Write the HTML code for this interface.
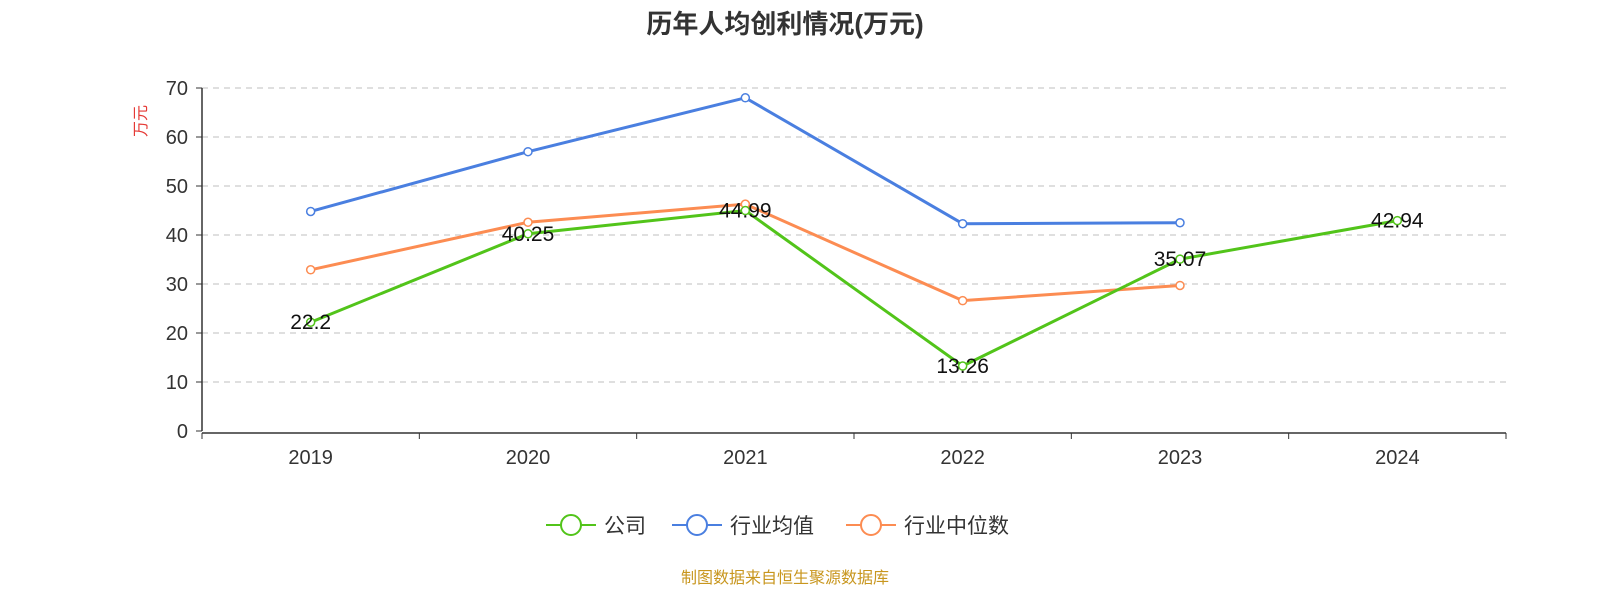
<!DOCTYPE html>
<html><head><meta charset="utf-8"><style>
html,body{margin:0;padding:0;overflow:hidden;background:#fff;font-family:"Liberation Sans","Noto Sans CJK SC",sans-serif;}
svg{display:block;}
svg text{font-family:"Liberation Sans","Noto Sans CJK SC",sans-serif;}
</style></head><body>
<svg id="c" width="1600" height="600"></svg>
<script>
const categories=['2019','2020','2021','2022','2023','2024'];
const company=[22.2,40.25,44.99,13.26,35.07,42.94];
const industryMean=[44.8,57.0,68.0,42.3,42.5,null];
const industryMedian=[32.9,42.6,46.3,26.6,29.7,null];
const yTicks=[0,10,20,30,40,50,60,70];
const NS='http://www.w3.org/2000/svg';
const svg=document.getElementById('c');
const x0=202,x1=1506,y0=431,yTop=88;
const bw=(x1-x0)/categories.length;
const xs=i=>x0+bw*(i+0.5);
const ys=v=>y0-(v/70)*(y0-yTop);
function el(t,a,txt){const e=document.createElementNS(NS,t);for(const k in a)e.setAttribute(k,a[k]);if(txt!=null)e.textContent=txt;svg.appendChild(e);return e;}
let e=el('text',{x:785,y:33,'text-anchor':'middle','font-size':26,'font-weight':'bold',fill:'#333'},'历年人均创利情况(万元)');

e=el('text',{x:0,y:0,transform:'translate(146,121) rotate(-90)','text-anchor':'middle','font-size':16,fill:'#e53935'},'万元');

yTicks.forEach(v=>{
 const y=ys(v);
 if(v>0){e=el('line',{x1:x0,x2:x1,y1:y,y2:y,stroke:'#ccc','stroke-dasharray':'6,5','stroke-width':1.2});
 }
 el('line',{x1:x0-6,x2:x0,y1:y,y2:y,stroke:'#333'});
 e=el('text',{x:x0-14,y:y+7,'text-anchor':'end','font-size':20,fill:'#333'},v);
 
});
e=el('line',{x1:x0,x2:x0,y1:yTop,y2:y0,stroke:'#333','stroke-width':1.5});

e=el('line',{x1:x0,x2:x1,y1:y0+2,y2:y0+2,stroke:'#333','stroke-width':1.5});

for(let i=0;i<=categories.length;i++){el('line',{x1:x0+bw*i,x2:x0+bw*i,y1:y0+2,y2:y0+8,stroke:'#333'});}
categories.forEach((c,i)=>{e=el('text',{x:xs(i),y:y0+33,'text-anchor':'middle','font-size':20,fill:'#333'},c);
});
function series(data,color,name,labels){
 let d='';data.forEach((v,i)=>{if(v==null)return;d+=(d?'L':'M')+xs(i)+','+ys(v);});
 e=el('path',{d:d,fill:'none',stroke:color,'stroke-width':3});
 
 data.forEach((v,i)=>{if(v==null)return;
  e=el('circle',{cx:xs(i),cy:ys(v),r:4,fill:'#fff',stroke:color,'stroke-width':1.5});
  
  if(labels){e=el('text',{x:xs(i),y:ys(v)+7,'text-anchor':'middle','font-size':21,fill:'#111'},v);
  }
 });
}
series(industryMean,'#4a7fe0','industry-mean',false);
series(industryMedian,'#fc8c52','industry-median',false);
series(company,'#52c41a','company',true);
const legend=[['公司','#52c41a',546],['行业均值','#4a7fe0',672],['行业中位数','#fc8c52',846]];
legend.forEach(([t,c,x])=>{
 el('line',{x1:x,x2:x+50,y1:525,y2:525,stroke:c,'stroke-width':2});
 el('circle',{cx:x+25,cy:525,r:10,fill:'#fff',stroke:c,'stroke-width':2});
 e=el('text',{x:x+58,y:533,'font-size':21,fill:'#333'},t);
 
});
e=el('text',{x:785,y:583,'text-anchor':'middle','font-size':16,fill:'#c8961e'},'制图数据来自恒生聚源数据库');

</script>
</body></html>
